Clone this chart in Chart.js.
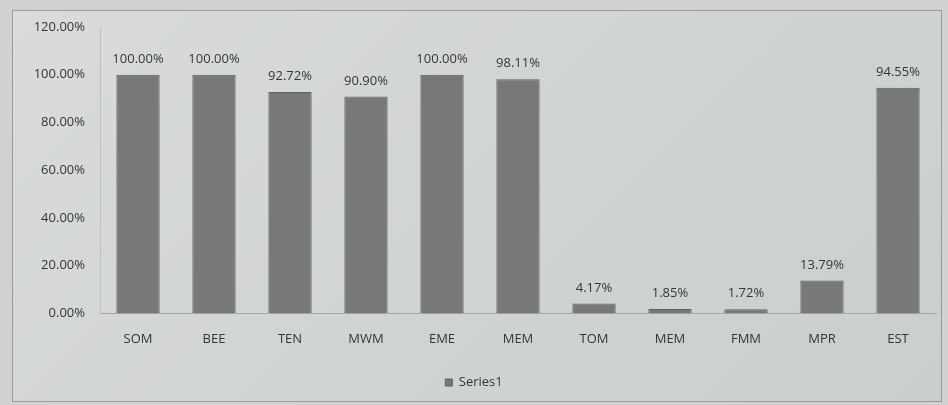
<!DOCTYPE html>
<html>
<head>
<meta charset="utf-8">
<script src="https://cdn.jsdelivr.net/npm/chart.js@4/dist/chart.umd.min.js"></script>
<style>
  html, body { margin: 0; padding: 0; background: #cfd2cf; }
  .frame {
    position: absolute; left: 12px; top: 10px; width: 930px; height: 392px;
    box-sizing: border-box; border: 1px solid #9a9c9a;
    background: linear-gradient(135deg, #d9dcd9 0%, #d1d5d2 50%, #cbcfcc 100%);
  }
  canvas { position: absolute; left: 0; top: 0; }
</style>
</head>
<body>
<div class="frame"></div>
<canvas id="chart" width="948" height="405"></canvas>
<script>
const categories = ["SOM", "BEE", "TEN", "MWM", "EME", "MEM", "TOM", "MEM", "FMM", "MPR", "EST"];
const series1 = [100.00, 100.00, 92.72, 90.90, 100.00, 98.11, 4.17, 1.85, 1.72, 13.79, 94.55];
const yTicks = [0, 20, 40, 60, 80, 100, 120];

const textColor = "#343635";
const font = { family: "'Open Sans', 'DejaVu Sans', sans-serif", size: 13 };

// draws the value labels above each bar
const valueLabels = {
  id: "valueLabels",
  afterDatasetsDraw(chart) {
    const ctx = chart.ctx;
    const meta = chart.getDatasetMeta(0);
    ctx.save();
    ctx.font = "13px " + font.family;
    ctx.fillStyle = textColor;
    ctx.textAlign = "center";
    ctx.textBaseline = "bottom";
    meta.data.forEach((bar, i) => {
      ctx.fillText(series1[i].toFixed(2) + "%", bar.x, bar.y - 9);
    });
    ctx.restore();
  },
};

new Chart(document.getElementById("chart").getContext("2d"), {
  type: "bar",
  data: {
    labels: categories,
    datasets: [
      {
        label: "Series1",
        data: series1,
        backgroundColor: "#777978",
        borderColor: "#5c5e5d",
        borderWidth: 1,
        barPercentage: 0.57,
        categoryPercentage: 1,
      },
    ],
  },
  options: {
    responsive: false,
    animation: false,
    layout: { padding: { left: 12, right: 12, top: 27, bottom: 6 } },
    plugins: {
      legend: {
        position: "bottom",
        labels: {
          color: textColor,
          font: font,
          boxWidth: 7,
          boxHeight: 7,
          padding: 11,
        },
      },
      tooltip: { enabled: false },
    },
    scales: {
      x: {
        grid: { display: false, drawTicks: false },
        border: { color: "#a6a8a7" },
        ticks: { color: textColor, font: font, padding: 18 },
      },
      y: {
        min: 0,
        max: 120,
        grid: { display: false, drawTicks: false },
        border: { color: "#bfc1c0" },
        afterFit: (scale) => { scale.width = 88; },
        afterBuildTicks: (scale) => { scale.ticks = yTicks.map((v) => ({ value: v })); },
        ticks: {
          color: textColor,
          font: font,
          padding: 15,
          callback: (v) => v.toFixed(2) + "%",
        },
      },
    },
  },
  plugins: [valueLabels],
});
</script>
</body>
</html>
